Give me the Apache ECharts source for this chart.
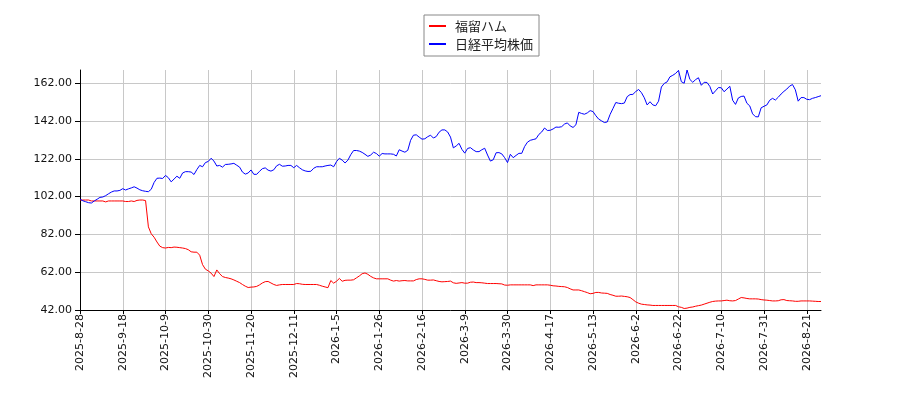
<!DOCTYPE html>
<html>
<head>
<meta charset="utf-8">
<script src="https://cdn.jsdelivr.net/npm/echarts@6/dist/echarts.min.js"></script>
<style>
html,body{margin:0;padding:0;background:#fff;}
#chart{width:900px;height:400px;}
</style>
</head>
<body>
<div id="chart"></div>
<script>
// Tick label dates (every 15th trading day)
const tickDates = ['2025-8-28','2025-9-18','2025-10-9','2025-10-30','2025-11-20','2025-12-11',
  '2026-1-5','2026-1-26','2026-2-16','2026-3-9','2026-3-30','2026-4-17','2026-5-13',
  '2026-6-2','2026-6-22','2026-7-10','2026-7-31','2026-8-21'];
const tailCount = 6; // points in the last segment (incl. 2026-8-21)

const yTicks = [42, 62, 82, 102, 122, 142, 162];

const seriesNames = ['福留ハム', '日経平均株価'];

// 福留ハム (red)
const fukutome = [
  100.2,100.2,100.2,100.2,99.7,99.7,99.7,99.7,99.7,99.2,99.7,99.7,99.7,99.7,99.7,
  99.7,99.4,99.4,99.7,99.4,100.0,100.2,100.2,99.9,86.0,82.3,80.5,78.0,75.8,75.0,
  74.8,75.1,75.0,75.3,75.2,75.0,74.8,74.5,73.9,72.8,72.6,72.6,71.0,66.0,63.6,
  62.7,61.5,59.7,63.2,61.2,59.7,59.2,58.9,58.5,57.9,57.2,56.5,55.5,54.6,53.9,
  54.1,54.2,54.5,55.3,56.3,57.0,57.1,56.3,55.5,55.0,55.3,55.5,55.5,55.5,55.5,
  55.5,56.0,55.9,55.6,55.5,55.5,55.5,55.5,55.5,55.1,54.6,54.2,53.8,57.6,56.2,
  57.2,58.7,57.2,57.7,57.8,57.8,58.0,59.0,60.0,61.2,61.6,60.9,59.8,59.0,58.5,
  58.5,58.5,58.5,58.5,57.8,57.3,57.6,57.3,57.5,57.6,57.4,57.4,57.4,58.1,58.5,
  58.5,58.2,57.8,57.8,57.9,57.5,57.1,56.9,57.0,57.1,57.3,56.4,56.1,56.3,56.5,
  56.2,56.2,56.7,56.8,56.5,56.5,56.4,56.2,56.0,56.0,56.0,56.0,55.9,55.8,55.2,
  55.1,55.3,55.3,55.3,55.3,55.3,55.3,55.3,55.3,54.9,55.3,55.3,55.3,55.3,55.3,
  55.1,54.8,54.7,54.5,54.4,54.3,53.9,53.2,52.6,52.6,52.6,52.2,51.7,51.2,50.6,
  50.8,51.3,51.3,51.0,50.9,50.8,50.2,49.8,49.3,49.3,49.4,49.2,49.0,48.6,47.5,
  46.3,45.6,45.1,44.9,44.7,44.6,44.4,44.4,44.4,44.4,44.4,44.4,44.4,44.4,44.4,
  43.7,43.4,42.8,43.0,43.4,43.6,44.0,44.3,44.6,45.1,45.6,46.1,46.5,46.7,46.8,
  46.8,47.0,47.2,46.9,46.8,47.0,47.8,48.6,48.4,48.1,47.9,47.9,47.9,47.8,47.5,
  47.3,47.2,47.0,46.8,46.8,46.9,47.4,47.5,47.0,46.9,46.8,46.6,46.6,46.8,46.8,
  46.8,46.8,46.7,46.6,46.5,46.5
];

// 日経平均株価 (blue)
const nikkei = [
  100.6,99.8,99.3,98.8,98.6,99.7,100.6,101.6,101.8,102.5,103.5,104.4,105.0,105.0,105.3,
  106.2,105.5,106.1,106.6,107.2,106.5,105.6,105.1,104.8,104.6,105.9,109.5,111.7,111.8,111.6,
  113.2,112.0,109.8,111.3,112.8,111.7,114.5,115.2,115.2,115.0,113.7,116.3,118.5,117.8,120.0,
  120.6,122.3,120.8,118.2,118.5,117.6,119.0,119.1,119.3,119.6,118.6,117.6,115.0,113.9,114.5,
  116.1,113.8,113.8,115.4,116.8,117.2,116.0,115.5,116.2,118.3,119.1,118.1,118.2,118.5,118.5,
  117.3,118.5,117.3,116.2,115.6,115.3,115.4,117.0,117.8,117.8,117.8,118.2,118.5,118.7,117.8,
  120.5,122.3,121.3,119.8,121.3,124.2,126.4,126.4,126.1,125.4,124.4,123.3,124.0,125.5,124.8,
  123.4,124.8,124.6,124.6,124.6,124.4,123.5,126.8,126.1,125.5,126.5,131.8,134.5,134.7,133.5,
  132.4,132.6,133.7,134.5,133.0,133.8,136.1,137.3,137.3,136.2,133.5,127.8,128.8,130.2,127.0,
  125.0,127.5,127.9,126.7,125.8,125.8,126.8,127.6,124.0,120.8,121.5,125.2,125.3,124.6,122.6,
  120.0,124.4,122.6,123.8,124.9,124.9,128.5,130.8,131.8,132.2,132.6,134.9,136.2,138.3,137.0,
  137.1,137.8,138.8,138.7,139.0,140.4,141.0,139.4,138.6,140.0,146.6,146.0,145.6,146.3,147.5,
  147.0,144.8,143.0,142.1,141.2,141.5,145.5,148.6,151.8,151.4,151.2,151.5,154.9,156.0,156.1,
  157.6,158.7,157.0,154.3,150.5,152.2,150.5,150.1,152.5,160.0,161.9,162.7,165.4,166.2,167.2,
  168.8,162.8,162.0,169.0,164.0,162.5,163.9,164.9,160.9,162.5,162.4,160.3,156.3,158.0,159.7,
  159.6,157.5,158.9,160.4,153.0,150.8,154.2,155.0,155.2,151.4,150.0,145.8,144.3,144.2,149.0,
  149.8,150.5,153.0,154.0,153.1,154.6,156.3,157.7,158.9,160.5,161.3,158.5,152.5,154.4,154.4,
  153.5,153.3,154.0,154.4,154.9,155.4
];

// Build the category (date) list: 15 trading days per labelled segment
function parseD(s){ const p = s.split('-').map(Number); return new Date(Date.UTC(p[0], p[1]-1, p[2])); }
function fmtD(d){ return d.getUTCFullYear() + '-' + (d.getUTCMonth()+1) + '-' + d.getUTCDate(); }
function buildCategories(){
  const out = [];
  const DAY = 86400000;
  for (let k = 0; k < tickDates.length; k++) {
    const a = parseD(tickDates[k]);
    if (k < tickDates.length - 1) {
      const b = parseD(tickDates[k+1]);
      const week = [], wend = [];
      for (let t = a.getTime(); t < b.getTime(); t += DAY) {
        const d = new Date(t); const wd = d.getUTCDay();
        (wd === 0 || wd === 6 ? wend : week).push(d);
      }
      let seg = week.slice(0, 15);
      let w = 0;
      while (seg.length < 15 && w < wend.length) seg.push(wend[w++]);
      seg.sort((x, y) => x - y);
      seg.forEach(d => out.push(fmtD(d)));
    } else {
      let t = a.getTime(); let n = 0;
      while (n < tailCount) {
        const d = new Date(t); const wd = d.getUTCDay();
        if (wd !== 0 && wd !== 6) { out.push(fmtD(d)); n++; }
        t += DAY;
      }
    }
  }
  return out;
}
const categories = buildCategories();

const chart = echarts.init(document.getElementById('chart'), null, {renderer: 'canvas'});
chart.setOption({
  animation: false,
  backgroundColor: '#ffffff',
  grid: {left: 80, right: 79, top: 70, bottom: 90, containLabel: false},
  legend: {
    data: seriesNames,
    orient: 'vertical',
    left: 424, top: 15,
    padding: [3, 6, 4, 5],
    itemGap: 2,
    itemWidth: 17, itemHeight: 2,
    icon: 'rect',
    backgroundColor: '#ffffff',
    borderColor: '#888888', borderWidth: 1,
    textStyle: {fontFamily: 'Noto Sans CJK JP', fontSize: 13, color: '#222', lineHeight: 16, padding: [0, 0, 0, 4]}
  },
  xAxis: {
    type: 'category',
    data: categories,
    boundaryGap: false,
    axisLine: {show: true, lineStyle: {color: '#000', width: 1}},
    axisTick: {show: true, interval: 14, length: 4, lineStyle: {color: '#000'}},
    axisLabel: {interval: 14, rotate: 90, margin: 4, fontFamily: 'DejaVu Sans', fontSize: 11, color: '#111'},
    splitLine: {show: true, interval: 14, lineStyle: {color: '#c8c8c8', width: 1}}
  },
  yAxis: {
    type: 'value',
    min: 42,
    max: 'dataMax',
    axisLine: {show: true, lineStyle: {color: '#000', width: 1}},
    axisTick: {show: true, length: 5, lineStyle: {color: '#000'}, customValues: yTicks},
    axisLabel: {customValues: yTicks, margin: 8, fontFamily: 'DejaVu Sans', fontSize: 11, color: '#111',
      formatter: v => Number(v).toFixed(2)},
    splitLine: {show: true, lineStyle: {color: '#c8c8c8', width: 1}}
  },
  series: [
    {name: seriesNames[0], type: 'line', data: fukutome, showSymbol: false, symbol: 'none',
     lineStyle: {color: '#ff0000', width: 1}, itemStyle: {color: '#ff0000'}},
    {name: seriesNames[1], type: 'line', data: nikkei, showSymbol: false, symbol: 'none',
     lineStyle: {color: '#0000ff', width: 1}, itemStyle: {color: '#0000ff'}}
  ]
});
</script>
</body>
</html>
